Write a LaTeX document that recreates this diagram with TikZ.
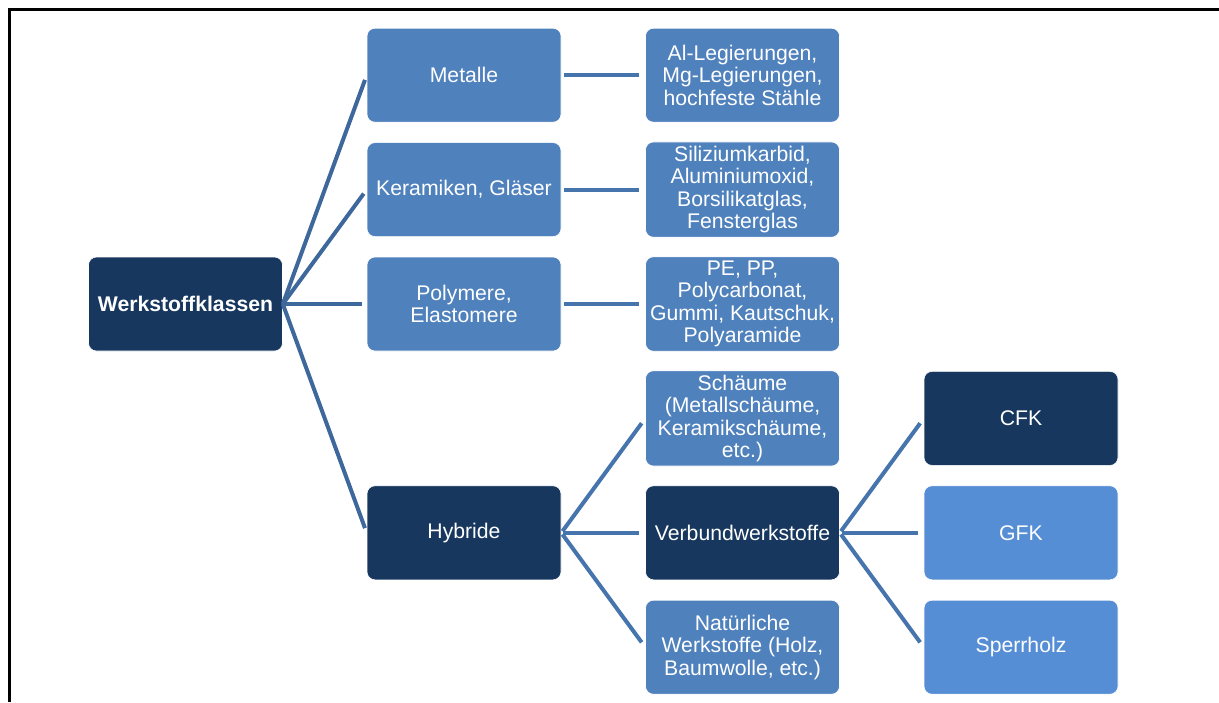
\documentclass[tikz,border=0pt]{standalone}
\usepackage{fontspec}
\setmainfont{Liberation Sans}
\usetikzlibrary{positioning}
\definecolor{navy}{RGB}{23,55,94}
\definecolor{midblue}{RGB}{79,129,189}
\definecolor{lightblue}{RGB}{85,142,213}
\definecolor{rootline}{RGB}{62,104,156}
\definecolor{subline}{RGB}{70,116,172}
\begin{document}
\begin{tikzpicture}[on grid, node distance={57.2pt and 139.25pt},
    box/.style = {rounded corners=4pt, minimum width=97pt, minimum height=47pt, align=center,
                  text=white, draw=white, line width=0.3pt, inner sep=2pt,
                  font=\fontsize{10.6pt}{11.25pt}\selectfont},
    dark/.style = {box, fill=navy},
    mid/.style = {box, fill=midblue},
    light/.style = {box, fill=lightblue},
    fan/.style = {draw=rootline, line width=2pt, shorten >=2.5pt},
    link/.style = {draw=subline, line width=2pt, shorten <=1pt, shorten >=3pt}]
    \useasboundingbox (0,0) rectangle (609.5pt,-351pt);
    % frame, top and left only
    \draw[line width=1.5pt] (4.5pt,-351pt) -- (4.5pt,-4.5pt) -- (609.5pt,-4.5pt);
    \node[dark, font=\fontsize{10.6pt}{11.25pt}\selectfont\bfseries] (root) at (92.75pt,-152pt) {Werkstoffklassen};
    \node[mid] (polymere) [right=of root] {Polymere,\\Elastomere};
    \node[mid] (keramik) [above=of polymere] {Keramiken, Gläser};
    \node[mid] (metalle) [above=of keramik] {Metalle};
    \node[dark] (hybride) [below=114.4pt of polymere] {Hybride};
    \node[mid] (legierung) [right=of metalle] {Al-Legierungen,\\Mg-Legierungen,\\hochfeste Stähle};
    \node[mid] (oxide) [right=of keramik] {Siliziumkarbid,\\Aluminiumoxid,\\Borsilikatglas,\\Fensterglas};
    \node[mid] (kunststoff) [right=of polymere] {PE, PP,\\Polycarbonat,\\Gummi, Kautschuk,\\Polyaramide};
    \node[dark] (verbund) [right=of hybride] {Verbundwerkstoffe};
    \node[mid] (schaeume) [above=of verbund] {Schäume\\(Metallschäume,\\Keramikschäume,\\etc.)};
    \node[mid] (natur) [below=of verbund] {Natürliche\\Werkstoffe (Holz,\\Baumwolle, etc.)};
    \node[dark] (cfk) [right=of schaeume] {CFK};
    \node[light] (gfk) [right=of verbund] {GFK};
    \node[light] (sperrholz) [right=of natur] {Sperrholz};
    \draw[fan] (root.east) -- (metalle.west);
    \draw[fan] (root.east) -- (keramik.west);
    \draw[fan] (root.east) -- (polymere.west);
    \draw[fan] (root.east) -- (hybride.west);
    \draw[link, shorten <=1.5pt] (metalle.east) -- (legierung.west);
    \draw[link, shorten <=1.5pt] (keramik.east) -- (oxide.west);
    \draw[link, shorten <=1.5pt] (polymere.east) -- (kunststoff.west);
    \draw[link] (hybride.east) -- (schaeume.west);
    \draw[link] (hybride.east) -- (verbund.west);
    \draw[link] (hybride.east) -- (natur.west);
    \draw[link] (verbund.east) -- (cfk.west);
    \draw[link] (verbund.east) -- (gfk.west);
    \draw[link] (verbund.east) -- (sperrholz.west);
\end{tikzpicture}
\end{document}
